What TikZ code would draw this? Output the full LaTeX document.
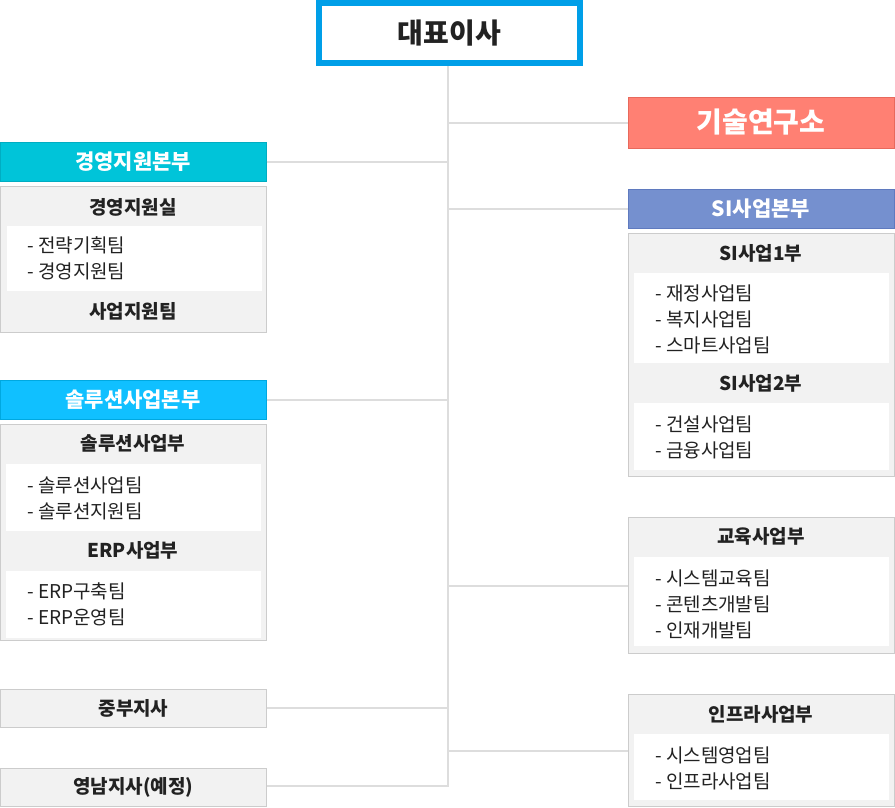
\documentclass[tikz,border=0pt]{standalone}
\usepackage{fontspec}
\setmainfont{Noto Sans CJK KR}
\usepackage{tikz}

\definecolor{ceoblue}{HTML}{009FE8}
\definecolor{labfill}{HTML}{FF8073}
\definecolor{labline}{HTML}{E8695C}
\definecolor{mgmtfill}{HTML}{00C4D9}
\definecolor{mgmtline}{HTML}{00ADC2}
\definecolor{solfill}{HTML}{10C0FF}
\definecolor{solline}{HTML}{00A8E0}
\definecolor{sifill}{HTML}{7590CF}
\definecolor{siline}{HTML}{5F7ABF}
\definecolor{boxgray}{HTML}{F2F2F2}
\definecolor{boxline}{HTML}{CCCCCC}
\definecolor{trunkgray}{HTML}{DDDDDD}
\definecolor{txt}{HTML}{222222}

\tikzset{
	head/.style={draw, line width=1pt, minimum width=266, minimum height=39, inner sep=0pt,
		text=white, font=\fontsize{21}{21}\selectfont\bfseries},
	graybox/.style={draw=boxline, fill=boxgray, line width=1pt, inner sep=0pt, anchor=north west},
	whitebox/.style={fill=white, inner sep=0pt, anchor=north west},
	subtitle/.style={text=txt, font=\fontsize{19}{19}\selectfont\bfseries},
	item/.style={text=txt, anchor=west, inner sep=0pt, font=\fontsize{19}{19}\selectfont},
	link/.style={draw=trunkgray, line width=2pt}
}

\begin{document}
\begin{tikzpicture}[x=1pt, y=-1pt]
	\useasboundingbox (0,0) rectangle (895,807);

	% top
	\node[draw=ceoblue, line width=6pt, fill=white, minimum width=261, minimum height=60, inner sep=0pt,
		text=txt, font=\fontsize{28}{28}\selectfont\bfseries] (ceo) at (449.5,33) {대표이사};
	\coordinate (trunktop) at (448,66);
	\coordinate (trunkend) at (448,786);

	% right side
	\node[head, draw=labline, fill=labfill, minimum height=51, font=\fontsize{28}{28}\selectfont\bfseries]
		(lab) at (761,122.5) {기술연구소};

	\node[head, draw=siline, fill=sifill] (si) at (761,208.5) {SI사업본부};
	\node[graybox, minimum width=266, minimum height=243] (sibox) at (628,233) {};
	\node[subtitle] (si1) at (761,253) {SI사업1부};
	\node[whitebox, minimum width=255, minimum height=90] (si1list) at (634,273) {};
	\node[item] (si1a) at (655,293) {- 재정사업팀};
	\node[item] (si1b) at (655,319) {- 복지사업팀};
	\node[item] (si1c) at (655,345) {- 스마트사업팀};
	\node[subtitle] (si2) at (761,383) {SI사업2부};
	\node[whitebox, minimum width=255, minimum height=67] (si2list) at (634,403) {};
	\node[item] (si2a) at (655,424) {- 건설사업팀};
	\node[item] (si2b) at (655,450) {- 금융사업팀};

	\node[graybox, minimum width=266, minimum height=136] (edu) at (628,517) {};
	\node[subtitle] (edutitle) at (761,536) {교육사업부};
	\node[whitebox, minimum width=255, minimum height=89] (edulist) at (634,557) {};
	\node[item] (edua) at (655,578) {- 시스템교육팀};
	\node[item] (edub) at (655,604) {- 콘텐츠개발팀};
	\node[item] (educ) at (655,630) {- 인재개발팀};

	\node[graybox, minimum width=266, minimum height=112] (infra) at (628,694) {};
	\node[subtitle] (infratitle) at (761,714) {인프라사업부};
	\node[whitebox, minimum width=255, minimum height=66] (infralist) at (634,734) {};
	\node[item] (infraa) at (655,755) {- 시스템영업팀};
	\node[item] (infrab) at (655,781) {- 인프라사업팀};

	% left side
	\node[head, draw=mgmtline, fill=mgmtfill] (mgmt) at (133,161.5) {경영지원본부};
	\node[graybox, minimum width=266, minimum height=146] (mgmtbox) at (0,186) {};
	\node[subtitle] (mgmttitle) at (133,207) {경영지원실};
	\node[whitebox, minimum width=255, minimum height=65] (mgmtlist) at (7,226) {};
	\node[item] (mgmta) at (27,245) {- 전략기획팀};
	\node[item] (mgmtb) at (27,271) {- 경영지원팀};
	\node[subtitle] (biz) at (133,311) {사업지원팀};

	\node[head, draw=solline, fill=solfill] (sol) at (133,399.5) {솔루션사업본부};
	\node[graybox, minimum width=266, minimum height=216] (solbox) at (0,424) {};
	\node[subtitle] (soltitle) at (133,443) {솔루션사업부};
	\node[whitebox, minimum width=255, minimum height=67] (sollist) at (6,464) {};
	\node[item] (sola) at (27,485) {- 솔루션사업팀};
	\node[item] (solb) at (27,511) {- 솔루션지원팀};
	\node[subtitle] (erp) at (133,550) {ERP사업부};
	\node[whitebox, minimum width=255, minimum height=67] (erplist) at (6,571) {};
	\node[item] (erpa) at (27,591) {- ERP구축팀};
	\node[item] (erpb) at (27,617) {- ERP운영팀};

	\node[graybox, minimum width=266, minimum height=38, anchor=west, subtitle] (mid) at (0,708) {중부지사};
	\node[graybox, minimum width=266, minimum height=38, anchor=west, subtitle] (yn) at (0,787) {영남지사(예정)};

	% connectors
	\draw[link] (trunktop) -- (trunkend) -- (trunkend -| yn.east);
	\draw[link] (lab.west) -- (lab.west -| trunktop);
	\draw[link] (si.west) -- (si.west -| trunktop);
	\draw[link] (edu.west) -- (edu.west -| trunktop);
	\draw[link] (infra.west) -- (infra.west -| trunktop);
	\draw[link] (mgmt.east) -- (mgmt.east -| trunktop);
	\draw[link] (sol.east) -- (sol.east -| trunktop);
	\draw[link] (mid.east) -- (mid.east -| trunktop);
\end{tikzpicture}
\end{document}
